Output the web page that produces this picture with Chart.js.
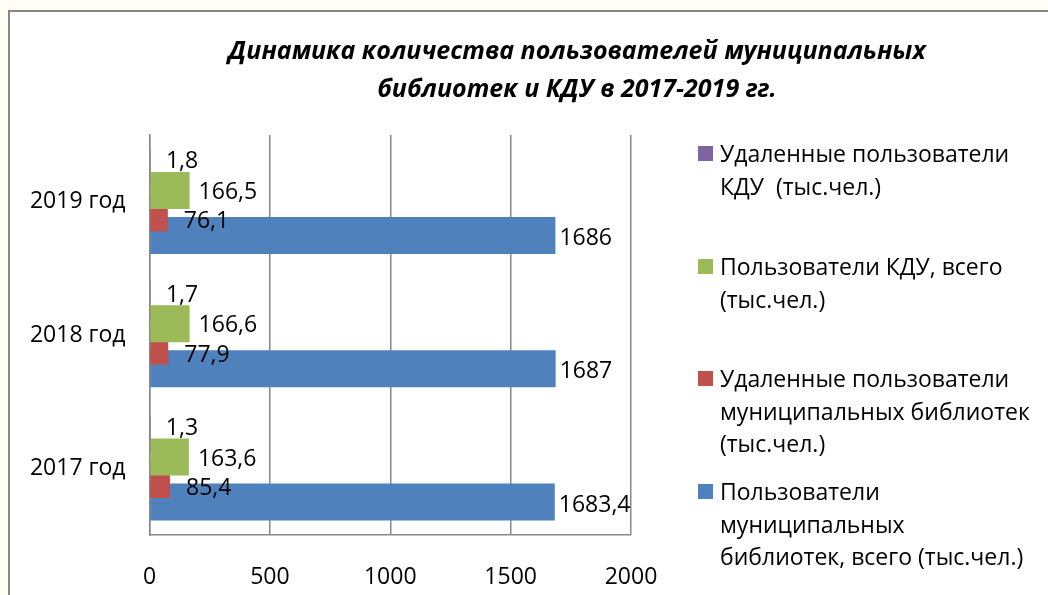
<!DOCTYPE html>
<html>
<head>
<meta charset="utf-8">
<style>
  html, body { margin: 0; padding: 0; background: #fffdf4; }
  #wrap { position: relative; width: 1048px; height: 595px; overflow: hidden; }
  #frame { position: absolute; left: 8px; top: 10px; right: -4px; bottom: -4px;
           background: #fff; border-left: 2px solid #888; border-top: 2px solid #888; }
  #myChart { position: absolute; left: 0; top: 0; }
  #title { position: absolute; left: 227px; width: 700px; top: 30px; text-align: center;
           font: italic bold 25px 'Open Sans', 'Liberation Sans', sans-serif; line-height: 38px;
           white-space: nowrap; color: #000; }
  #legend { position: absolute; left: 698px; top: 0; font: 23px 'Open Sans', 'Liberation Sans', sans-serif; color: #000; }
  .item { position: absolute; left: 0; white-space: pre; line-height: 32.5px; }
  .item i { position: absolute; left: 0; top: 9px; width: 15px; height: 15px; }
  .item span { display: block; margin-left: 22px; }
</style>
</head>
<body>
<div id="wrap">
  <div id="frame"></div>
  <canvas id="myChart" width="1048" height="595"></canvas>
  <div id="title">Динамика количества пользователей муниципальных<br>библиотек и КДУ в 2017-2019 гг.</div>
  <div id="legend"></div>
</div>

<script src="https://cdn.jsdelivr.net/npm/chart.js"></script>
<script>
  // categories, top to bottom
  const years = ['2019 год', '2018 год', '2017 год'];

  // series (legend order, top to bottom)
  const remoteKdu = [1.8, 1.7, 1.3];
  const usersKdu = [166.5, 166.6, 163.6];
  const remoteLib = [76.1, 77.9, 85.4];
  const usersLib = [1686, 1687, 1683.4];

  const xTicks = [0, 500, 1000, 1500, 2000];

  const seriesNames = [
    ['Удаленные пользователи', 'КДУ  (тыс.чел.)'],
    ['Пользователи КДУ, всего', '(тыс.чел.)'],
    ['Удаленные пользователи', 'муниципальных библиотек', '(тыс.чел.)'],
    ['Пользователи', 'муниципальных', 'библиотек, всего (тыс.чел.)']
  ];
  const colors = ['#8064a2', '#9bbb59', '#c0504d', '#4f81bd'];

  // label offsets per series [dx, dy]
  const labelShift = [[16, -6], [9, 2], [16, 9], [4, 3]];

  const valueLabels = {
    id: 'valueLabels',
    afterDatasetsDraw(chart) {
      const c = chart.ctx;
      c.save();
      c.font = "23px 'Open Sans', 'Liberation Sans', sans-serif";
      c.fillStyle = '#000';
      c.textBaseline = 'middle';
      c.textAlign = 'left';
      chart.data.datasets.forEach((ds, i) => {
        const meta = chart.getDatasetMeta(i);
        meta.data.forEach((bar, j) => {
          const txt = String(ds.data[j]).replace('.', ',');
          c.fillText(txt, bar.x + labelShift[i][0], bar.y + labelShift[i][1]);
        });
      });
      c.restore();
    }
  };

  const ctx = document.getElementById('myChart');

  const myChart = new Chart(ctx, {
    type: 'bar',
    data: {
      labels: years,
      datasets: [remoteKdu, usersKdu, remoteLib, usersLib].map((d, i) => ({
        label: seriesNames[i].join(' '),
        data: d,
        backgroundColor: colors[i],
        borderWidth: 0,
        categoryPercentage: 0.675,
        barPercentage: 1.644
      }))
    },
    options: {
      indexAxis: 'y',
      responsive: false,
      animation: false,
      layout: { padding: { left: 0, right: 417, top: 135, bottom: 0 } },
      plugins: {
        legend: { display: false },
        title: { display: false },
        tooltip: { enabled: false }
      },
      scales: {
        x: {
          min: 0,
          max: 2000,
          afterBuildTicks: (s) => { s.ticks = xTicks.map(v => ({ value: v })); },
          afterFit: (s) => { s.height = 60; },
          grid: { color: '#888', lineWidth: 1.5, drawTicks: false },
          border: { display: true, color: '#888', width: 1.5 },
          ticks: {
            padding: 29, color: '#000',
            font: { family: "'Open Sans', 'Liberation Sans', sans-serif", size: 23 },
            callback: (v) => String(v)
          }
        },
        y: {
          afterFit: (s) => { s.width = 149.5; },
          grid: { display: false, drawTicks: false },
          border: { display: true, color: '#888', width: 1.5 },
          ticks: { padding: 24, color: '#000', font: { family: "'Open Sans', 'Liberation Sans', sans-serif", size: 23 } }
        }
      }
    },
    plugins: [valueLabels]
  });

  // legend on the right
  const legendTops = [137, 250, 362, 475];
  const legend = document.getElementById('legend');
  seriesNames.forEach((lines, i) => {
    const div = document.createElement('div');
    div.className = 'item';
    div.style.top = legendTops[i] + 'px';
    div.innerHTML = '<i style="background:' + colors[i] + '"></i><span>' + lines.join('<br>') + '</span>';
    legend.appendChild(div);
  });
</script>
</body>
</html>
